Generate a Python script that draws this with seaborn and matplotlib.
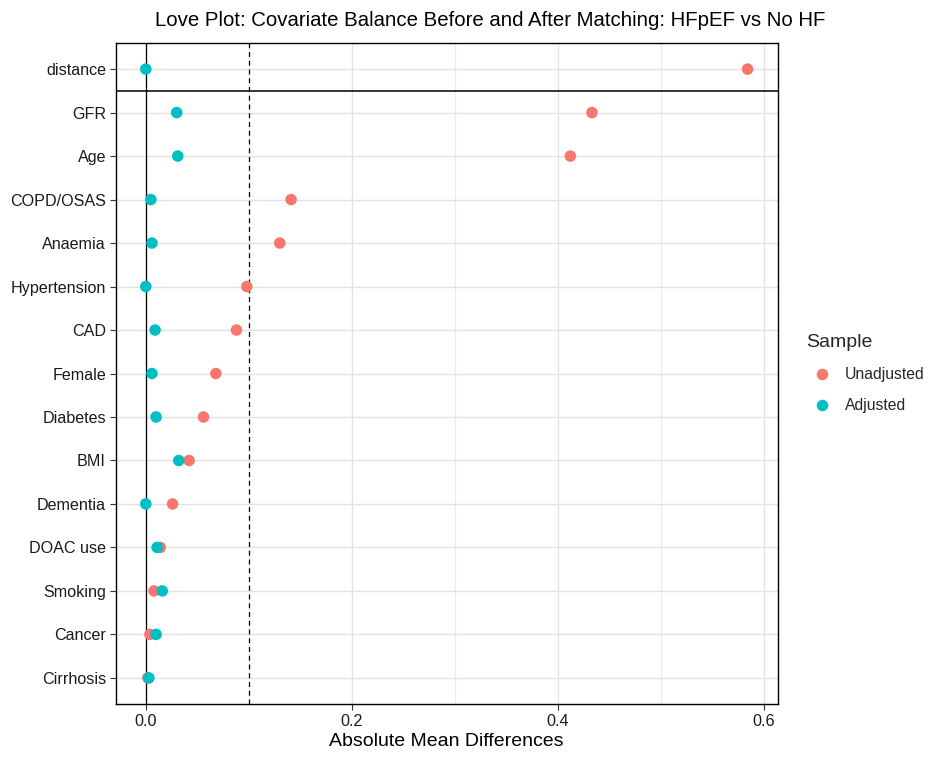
"""
Love plot: covariate balance before and after matching (HFpEF vs No HF).
Absolute mean differences for each covariate, unadjusted vs adjusted sample.
"""

import pandas as pd
import matplotlib
matplotlib.use("Agg")
import matplotlib.pyplot as plt
import seaborn as sns

# covariates, top to bottom
covariates = ['distance', 'GFR', 'Age', 'COPD/OSAS', 'Anaemia', 'Hypertension',
              'CAD', 'Female', 'Diabetes', 'BMI', 'Dementia', 'DOAC use',
              'Smoking', 'Cancer', 'Cirrhosis']

# absolute mean differences
unadjusted = [0.584, 0.433, 0.412, 0.141, 0.130, 0.098, 0.088, 0.068,
              0.056, 0.042, 0.026, 0.014, 0.008, 0.004, 0.002]
adjusted = [0.000, 0.030, 0.031, 0.005, 0.006, 0.000, 0.009, 0.006,
            0.010, 0.032, 0.000, 0.011, 0.016, 0.010, 0.003]

samples = ['Unadjusted', 'Adjusted']
colors = ['#F8766D', '#00BFC4']
x_ticks = [0.0, 0.2, 0.4, 0.6]
x_tick_labels = ['0.0', '0.2', '0.4', '0.6']
threshold = 0.1

# long-format table for seaborn
df = pd.DataFrame({
    'Covariate': covariates * 2,
    'Difference': unadjusted + adjusted,
    'Sample': ['Unadjusted'] * len(covariates) + ['Adjusted'] * len(covariates),
})

sns.set_theme(style='white')
plt.rcParams['font.family'] = ['Liberation Sans', 'DejaVu Sans']

fig = plt.figure(figsize=(9.3, 7.6), dpi=100)
ax = fig.add_axes([0.1244, 0.0737, 0.7118, 0.8697])

# grid first so it sits underneath the points
ax.set_axisbelow(True)
for xv in [0.1, 0.3, 0.5]:
    ax.axvline(xv, color='#EBEBEB', lw=0.9, zorder=0)
for xv in x_ticks:
    ax.axvline(xv, color='#E3E3E3', lw=1.0, zorder=0)
for yv in range(len(covariates)):
    ax.axhline(yv, color='#E3E3E3', lw=1.0, zorder=0)

# reference lines
ax.axvline(0, color='black', lw=0.9, zorder=1)
ax.axvline(threshold, color='black', lw=0.9, ls=(0, (4, 3)), zorder=1)
ax.axhline(0.5, color='black', lw=1.1, zorder=1)

sns.stripplot(data=df, x='Difference', y='Covariate', hue='Sample',
              order=covariates, hue_order=samples, palette=colors,
              jitter=False, dodge=False, size=8.3, linewidth=0,
              orient='h', ax=ax, zorder=3)

ax.set_xlim(-0.0292, 0.6132)
ax.set_ylim(len(covariates) - 1 + 0.6, -0.6)
ax.set_xticks(x_ticks)
ax.set_xticklabels(x_tick_labels)
ax.tick_params(axis='both', labelsize=11.6, labelcolor='#1a1a1a',
               length=4, width=0.8, color='#333333', pad=3,
               left=True, bottom=True)
ax.set_xlabel('Absolute Mean Differences', fontsize=14, color='black', labelpad=3)
ax.set_ylabel('')

for side in ['top', 'right', 'left', 'bottom']:
    ax.spines[side].set_visible(True)
    ax.spines[side].set_color('black')
    ax.spines[side].set_linewidth(1.0)

fig.text(490 / 930, 1 - 20 / 760, 'Love Plot: Covariate Balance Before and After Matching: HFpEF vs No HF',
         ha='center', va='center', fontsize=14.7, color='black')

handles, labels = ax.get_legend_handles_labels()
leg = ax.legend(handles, labels, title='Sample', loc='center left',
                bbox_to_anchor=(1.022, 0.5), frameon=False, fontsize=11.3,
                title_fontsize=14, handletextpad=0.45, labelspacing=1.05,
                markerscale=1.0)
leg._legend_box.align = 'left'

fig.savefig('out.png', dpi=100)
